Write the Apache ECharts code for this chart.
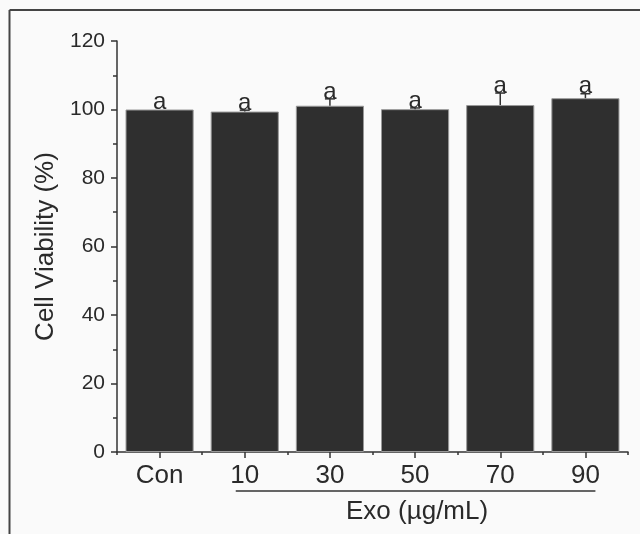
<!DOCTYPE html>
<html>
<head>
<meta charset="utf-8">
<script src="https://cdn.jsdelivr.net/npm/echarts@6/dist/echarts.min.js"></script>
<style>
html,body{margin:0;padding:0;background:#fafafa;}
#c{width:640px;height:534px;}
</style>
</head>
<body>
<div id="c"></div>
<script>
const categories = ['Con', '10', '30', '50', '70', '90'];
const viability = [100, 99.4, 101.1, 100.1, 101.3, 103.3];
const errorUp = [0, 0.4, 2.0, 0.35, 3.5, 1.3];
const sigLetters = ['a', 'a', 'a', 'a', 'a', 'a'];
const yTicks = [0, 20, 40, 60, 80, 100, 120];
const groupLabel = 'Exo (\u00b5g/mL)';
const yTitle = 'Cell Viability (%)';

const FONT = '"Liberation Sans", Arial, sans-serif';
const INK = '#333333';

const chart = echarts.init(document.getElementById('c'), null, {renderer: 'canvas'});

const errData = categories.map((c, i) => [i, viability[i], errorUp[i], sigLetters[i]]);

const option = {
  backgroundColor: '#fafafa',
  animation: false,
  grid: {left: 117, right: 12, top: 41, bottom: 82, containLabel: false},
  xAxis: [
    {
      type: 'category',
      data: categories,
      boundaryGap: true,
      axisLine: {show: true, lineStyle: {color: INK, width: 1.5}},
      axisTick: {show: true, alignWithLabel: true, length: 6, lineStyle: {color: INK, width: 1.5}},
      axisLabel: {color: '#2a2a2a', fontFamily: FONT, fontSize: 26, margin: 11}
    },
    {
      type: 'category',
      data: categories,
      position: 'bottom',
      boundaryGap: true,
      axisLine: {show: false},
      axisTick: {show: true, length: 3, lineStyle: {color: INK, width: 1.5}},
      axisLabel: {show: false}
    }
  ],
  yAxis: {
    type: 'value',
    min: yTicks[0],
    max: yTicks[yTicks.length - 1],
    interval: yTicks[1] - yTicks[0],
    name: yTitle,
    nameLocation: 'middle',
    nameGap: 57,
    nameTextStyle: {color: '#2a2a2a', fontFamily: FONT, fontSize: 26},
    axisLine: {show: true, lineStyle: {color: INK, width: 1.5}},
    axisTick: {show: true, length: 6, lineStyle: {color: INK, width: 1.5}},
    minorTick: {show: true, splitNumber: 2, length: 4, lineStyle: {color: INK, width: 1.5}},
    splitLine: {show: false},
    axisLabel: {color: '#2a2a2a', fontFamily: FONT, fontSize: 21, margin: 12}
  },
  series: [
    {
      type: 'bar',
      data: viability,
      barCategoryGap: '20%',
      itemStyle: {color: '#2f2f2f', borderColor: '#999999', borderWidth: 1}
    },
    {
      type: 'custom',
      data: errData,
      z: 5,
      renderItem: function (params, api) {
        const i = api.value(0);
        const v = api.value(1);
        const e = api.value(2);
        const lab = sigLetters[params.dataIndex];
        const base = api.coord([i, v]);
        const top = api.coord([i, v + e]);
        const cap = 5;
        const children = [];
        if (e > 0) {
          children.push({
            type: 'line',
            shape: {x1: base[0], y1: base[1], x2: top[0], y2: top[1]},
            style: {stroke: INK, lineWidth: 1.5}
          });
          children.push({
            type: 'line',
            shape: {x1: top[0] - cap, y1: top[1], x2: top[0] + cap, y2: top[1]},
            style: {stroke: INK, lineWidth: 1.5}
          });
        }
        children.push({
          type: 'text',
          style: {
            text: lab,
            x: top[0],
            y: top[1] + 5,
            textAlign: 'center',
            textVerticalAlign: 'bottom',
            fontFamily: FONT,
            fontSize: 24,
            fill: '#2a2a2a'
          }
        });
        return {type: 'group', children: children};
      }
    }
  ]
};

chart.setOption(option);

const p10 = chart.convertToPixel({xAxisIndex: 0}, categories[1]);
const p90 = chart.convertToPixel({xAxisIndex: 0}, categories[categories.length - 1]);
const y0 = chart.convertToPixel({yAxisIndex: 0}, 0);

chart.setOption({
  graphic: [
    {type: 'line', shape: {x1: 9.5, y1: 10, x2: 640, y2: 10}, style: {stroke: '#444', lineWidth: 2}},
    {type: 'line', shape: {x1: 9.5, y1: 10, x2: 9.5, y2: 534}, style: {stroke: '#444', lineWidth: 2}},
    {type: 'line', shape: {x1: p10 - 9, y1: y0 + 39, x2: p90 + 10, y2: y0 + 39}, style: {stroke: INK, lineWidth: 1.5}},
    {type: 'text', style: {text: groupLabel, x: (p10 + p90) / 2 + 2, y: y0 + 60, textAlign: 'center', textVerticalAlign: 'middle', fontFamily: FONT, fontSize: 26, fill: '#2a2a2a'}}
  ]
});
</script>
</body>
</html>
